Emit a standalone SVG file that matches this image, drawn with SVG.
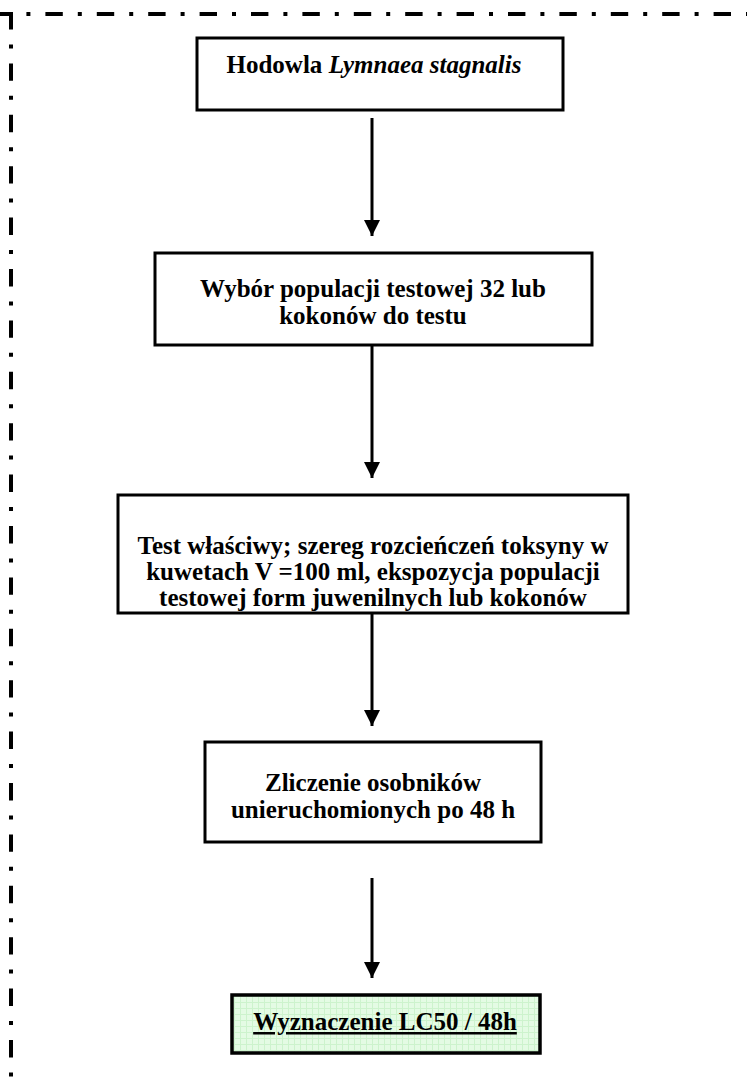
<svg xmlns="http://www.w3.org/2000/svg" width="747" height="1090" viewBox="0 0 747 1090">
  <style>
    .frame { fill: none; stroke: #000; stroke-width: 4; stroke-dasharray: 17.4 15 4 15; }
    .box { fill: #fff; stroke: #000; stroke-width: 3; }
    .final { fill: url(#grid); stroke: #000; stroke-width: 3.5; }
    text { font-family: 'Liberation Serif', 'Times New Roman', serif; font-weight: 700; font-size: 25px; fill: #000; text-anchor: middle; }
    .it { font-style: italic; }
    .conn line { stroke: #000; stroke-width: 3; }
  </style>
  <defs>
    <pattern id="grid" width="6" height="6" patternUnits="userSpaceOnUse">
      <rect width="6" height="6" fill="#e4fbe4"/>
      <path d="M0 0.5 H6 M0.5 0 V6" stroke="#cdf3cd" stroke-width="1"/>
    </pattern>
    <marker id="arrow" markerWidth="16" markerHeight="16" viewBox="0 0 16 16" refX="16" refY="8" orient="auto" markerUnits="userSpaceOnUse">
      <path d="M0 0 L16 8 L0 16 Z" fill="#000"/>
    </marker>
  </defs>

  <!-- dash-dot frame along the left and top edges -->
  <g id="frame">
    <path class="frame" d="M11 12 V1090"/>
    <path class="frame" d="M-6 14 H747"/>
  </g>

  <!-- connectors -->
  <g class="conn" id="connectors">
    <line x1="372" y1="118" x2="372" y2="236" marker-end="url(#arrow)"/>
    <line x1="372" y1="345" x2="372" y2="478" marker-end="url(#arrow)"/>
    <line x1="372" y1="613" x2="372" y2="726" marker-end="url(#arrow)"/>
    <line x1="372" y1="878" x2="372" y2="978" marker-end="url(#arrow)"/>
  </g>

  <g id="n1">
    <rect class="box" x="197" y="38" width="366" height="72"/>
    <text x="374" y="73">Hodowla <tspan class="it">Lymnaea stagnalis</tspan></text>
  </g>

  <g id="n2">
    <rect class="box" x="155" y="253" width="437" height="92"/>
    <text x="373" y="297">Wybór populacji testowej 32 lub</text>
    <text x="373" y="324">kokonów do testu</text>
  </g>

  <g id="n3">
    <rect class="box" x="118" y="495" width="510" height="118"/>
    <text x="373" y="554">Test właściwy; szereg rozcieńczeń toksyny w</text>
    <text x="373" y="580">kuwetach V =100 ml, ekspozycja populacji</text>
    <text x="373" y="606">testowej form juwenilnych lub kokonów</text>
  </g>

  <g id="n4">
    <rect class="box" x="205" y="742" width="336" height="100"/>
    <text x="373" y="791">Zliczenie osobników</text>
    <text x="373" y="818">unieruchomionych po 48 h</text>
  </g>

  <g id="n5">
    <rect class="final" x="232" y="995" width="308" height="58"/>
    <text x="385" y="1030" text-decoration="underline">Wyznaczenie LC50 / 48h</text>
  </g>
</svg>
